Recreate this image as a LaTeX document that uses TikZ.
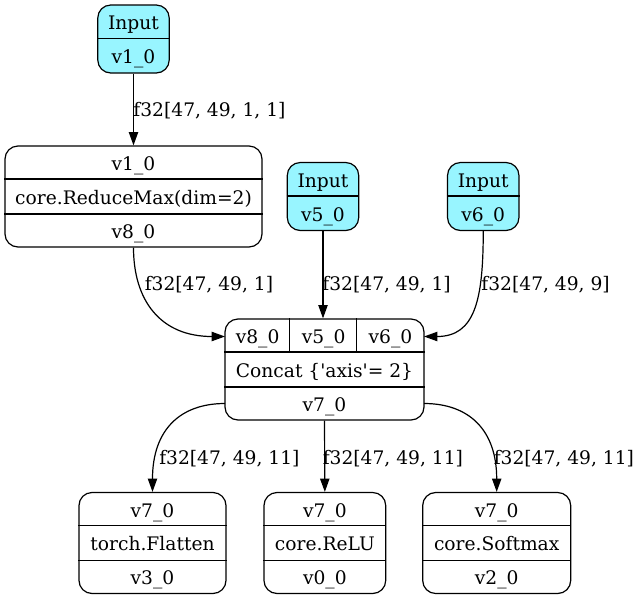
\documentclass[tikz,border=0pt]{standalone}
\usepackage{fontspec}
\setmainfont{DejaVu Serif}
\usetikzlibrary{arrows.meta}
\definecolor{inputfill}{HTML}{98F5FF}
\begin{document}
\begin{tikzpicture}[x=0.75pt,y=-0.75pt,
  font=\fontsize{14pt}{17pt}\selectfont,
  rec/.style={draw=black, line width=0.9pt, rounded corners=9.75pt, inner sep=0pt},
  inrec/.style={rec, fill=inputfill, minimum width=53.6pt, minimum height=51pt},
  tri/.style={rec, minimum height=75.75pt},
  sep/.style={draw=black, line width=0.9pt},
  cell/.style={inner sep=0pt, text height=0.73em, text depth=0pt, yshift=-2.25pt},
  lab/.style={inner sep=0pt, text height=0.73em, text depth=0pt, anchor=west, yshift=-3pt},
  edge/.style={draw=black, line width=0.9pt, -{Triangle[length=10pt,width=7pt]}}
]
\useasboundingbox (0,0) rectangle (640,601);

% ---- input records ----
\node[inrec] (in1) at (133.5,39) {};
\draw[sep] ([yshift=-25.5pt]in1.north west) -- ([yshift=-25.5pt]in1.north east);
\node[cell] (in1a) at (133.5,22) {Input};
\node[cell] (in1b) at (133.5,56) {v1\_0};

\node[inrec] (in5) at (323,196.5) {};
\draw[sep] ([yshift=-25.5pt]in5.north west) -- ([yshift=-25.5pt]in5.north east);
\node[cell] (in5a) at (323,179.5) {Input};
\node[cell] (in5b) at (323,213.5) {v5\_0};

\node[inrec] (in6) at (483.25,196.5) {};
\draw[sep] ([yshift=-25.5pt]in6.north west) -- ([yshift=-25.5pt]in6.north east);
\node[cell] (in6a) at (483.25,179.5) {Input};
\node[cell] (in6b) at (483.25,213.5) {v6\_0};

% ---- ReduceMax ----
\node[tri, minimum width=192.75pt] (red) at (133.5,196.5) {};
\draw[sep] ([yshift=-25.25pt]red.north west) -- ([yshift=-25.25pt]red.north east);
\draw[sep] ([yshift=25.25pt]red.south west) -- ([yshift=25.25pt]red.south east);
\node[cell] (reda) at (133.5,162.8) {v1\_0};
\node[cell] (redb) at (133.5,196.5) {core.ReduceMax(dim=2)};
\node[cell] (redc) at (133.5,230.2) {v8\_0};

% ---- Concat ----
\node[tri, minimum width=149.25pt] (cc) at (324.5,369.5) {};
\draw[sep] ([yshift=-25.25pt]cc.north west) -- ([yshift=-25.25pt]cc.north east);
\draw[sep] ([yshift=25.25pt]cc.south west) -- ([yshift=25.25pt]cc.south east);
\draw[sep] ([xshift=49pt]cc.north west) -- ([xshift=49pt,yshift=-25.25pt]cc.north west);
\draw[sep] ([xshift=99pt]cc.north west) -- ([xshift=99pt,yshift=-25.25pt]cc.north west);
\node[cell] (c8) at (257.6,335.8) {v8\_0};
\node[cell] (c5) at (323.6,335.8) {v5\_0};
\node[cell] (c6) at (390.5,335.8) {v6\_0};
\node[cell] (cop) at (324.5,369.5) {Concat \{\textquotesingle axis\textquotesingle = 2\}};
\node[cell] (c7) at (324.5,403.2) {v7\_0};
\coordinate (c8in) at (225,336.5);
\coordinate (c6in) at (424,336.5);
\coordinate (c7l) at (225,403.5);
\coordinate (c7r) at (424,403.5);

% ---- consumers ----
\node[tri, minimum width=110.25pt] (fl) at (152.5,543) {};
\draw[sep] ([yshift=-25.25pt]fl.north west) -- ([yshift=-25.25pt]fl.north east);
\draw[sep] ([yshift=25.25pt]fl.south west) -- ([yshift=25.25pt]fl.south east);
\node[cell] (fla) at (152.5,509.3) {v7\_0};
\node[cell] (flb) at (152.5,543) {torch.Flatten};
\node[cell] (flc) at (152.5,576.7) {v3\_0};

\node[tri, minimum width=91.3pt] (relu) at (324.85,543) {};
\draw[sep] ([yshift=-25.25pt]relu.north west) -- ([yshift=-25.25pt]relu.north east);
\draw[sep] ([yshift=25.25pt]relu.south west) -- ([yshift=25.25pt]relu.south east);
\node[cell] (relua) at (324.85,509.3) {v7\_0};
\node[cell] (relub) at (324.85,543) {core.ReLU};
\node[cell] (reluc) at (324.85,576.7) {v0\_0};

\node[tri, minimum width=111pt] (sm) at (496.7,543) {};
\draw[sep] ([yshift=-25.25pt]sm.north west) -- ([yshift=-25.25pt]sm.north east);
\draw[sep] ([yshift=25.25pt]sm.south west) -- ([yshift=25.25pt]sm.south east);
\node[cell] (sma) at (496.7,509.3) {v7\_0};
\node[cell] (smb) at (496.7,543) {core.Softmax};
\node[cell] (smc) at (496.7,576.7) {v2\_0};

% ---- edges ----
\draw[edge] (in1.south) -- (red.north);
\draw[edge] (red.south) .. controls (133.5,300) and (160,336.5) .. (c8in);
\draw[edge] (in5.south) -- (in5.south |- cc.north);
\draw[edge] (in6.south) .. controls (483.25,300) and (475,336.5) .. (c6in);
\draw[edge] (c7l) .. controls (180,403.5) and (152.5,430) .. (fl.north);
\draw[edge] (cc.south) -- (relu.north);
\draw[edge] (c7r) .. controls (469,403.5) and (496.7,430) .. (sm.north);

% ---- edge labels ----
\node[lab] (l1) at (133.2,107.7) {f32[47, 49, 1, 1]};
\node[lab] (l2) at (144.5,281.2) {f32[47, 49, 1]};
\node[lab] (l3) at (322.2,281.2) {f32[47, 49, 1]};
\node[lab] (l4) at (481.2,281.2) {f32[47, 49, 9]};
\node[lab] (l5) at (159,455.7) {f32[47, 49, 11]};
\node[lab] (l6) at (322.5,455.7) {f32[47, 49, 11]};
\node[lab] (l7) at (493.5,455.7) {f32[47, 49, 11]};
\end{tikzpicture}
\end{document}
